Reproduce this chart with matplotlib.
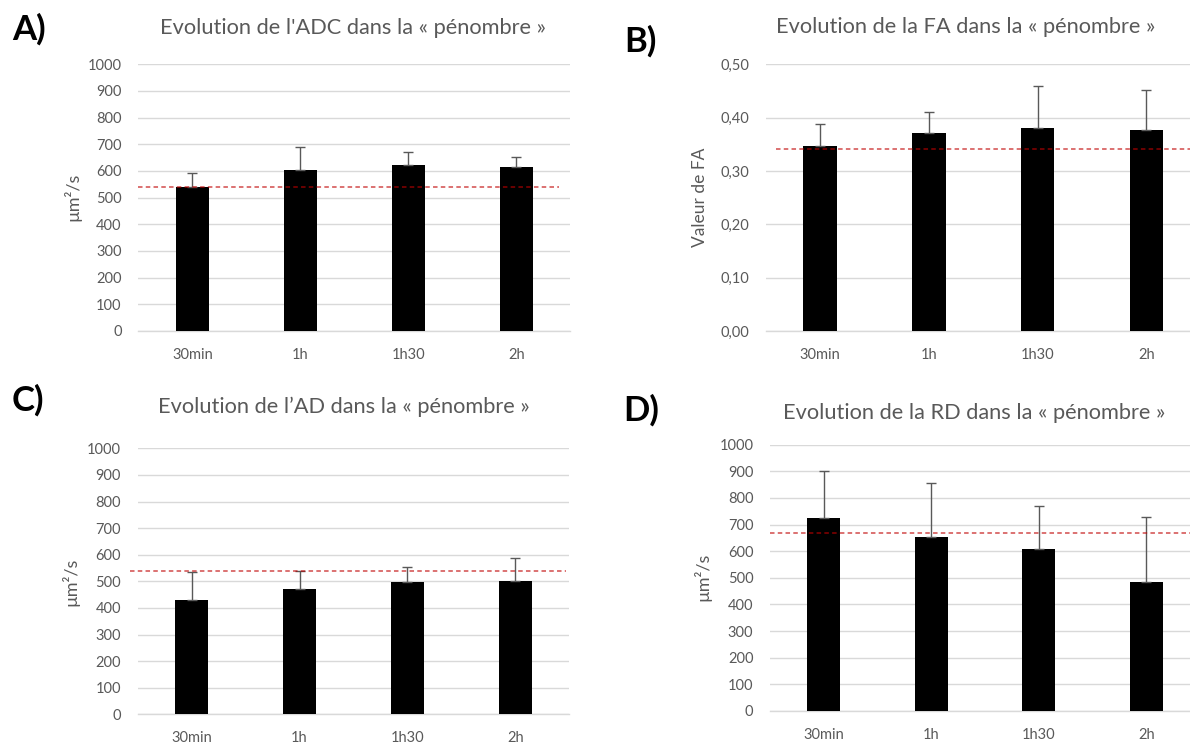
import numpy as np
import matplotlib.pyplot as plt
from matplotlib.ticker import MultipleLocator, FuncFormatter

plt.rcParams['font.family'] = ['Lato', 'DejaVu Sans']

# data
temps = ['30min', '1h', '1h30', '2h']

adc_moy = [541, 602, 624, 616]
adc_sd = [53, 88, 48, 35]
adc_ref = 541

fa_moy = [0.346, 0.372, 0.380, 0.376]
fa_sd = [0.043, 0.038, 0.079, 0.076]
fa_ref = 0.341

ad_moy = [428, 471, 496, 502]
ad_sd = [107, 68, 59, 85]
ad_ref = 540

rd_moy = [723, 652, 609, 486]
rd_sd = [177, 205, 160, 244]
rd_ref = 668

W, H = 1190, 745
gris = '#595959'
grille = '#d9d9d9'

fig = plt.figure(figsize=(W / 100, H / 100), dpi=100)


def px(x0, y0, x1, y1):
    # pixel box -> figure fraction [left, bottom, width, height]
    return [x0 / W, 1 - y1 / H, (x1 - x0) / W, (y1 - y0) / H]


def panneau(box, moy, sd, ref, ymax, pas, fmt, ref_span):
    ax = fig.add_axes(box)
    x = np.arange(len(temps))
    ax.bar(x, moy, width=0.31, color='black', zorder=3)
    ax.errorbar(x, moy, yerr=[np.zeros(len(sd)), sd], fmt='none',
                ecolor=gris, elinewidth=1, capsize=3.5, capthick=1, zorder=4)
    ax.axhline(ref, xmin=ref_span[0], xmax=ref_span[1], color='#c00000',
               alpha=0.6, lw=1.3, ls=(0, (2.5, 1.8)), zorder=5, clip_on=False)
    ax.set_xlim(-0.5, len(temps) - 0.5)
    ax.set_ylim(0, ymax)
    ax.yaxis.set_major_locator(MultipleLocator(pas))
    ax.yaxis.set_major_formatter(FuncFormatter(fmt))
    ax.set_xticks(x)
    ax.set_xticklabels(temps)
    ax.grid(axis='y', color=grille, lw=1, zorder=0)
    ax.set_axisbelow(True)
    for s in ['top', 'right', 'left']:
        ax.spines[s].set_visible(False)
    ax.spines['bottom'].set_color(grille)
    ax.spines['bottom'].set_linewidth(1)
    ax.tick_params(axis='both', length=0, colors=gris, labelsize=10.5)
    ax.tick_params(axis='y', pad=12)
    ax.tick_params(axis='x', pad=12)
    return ax


entier = lambda v, p: '%d' % v
virgule = lambda v, p: ('%.2f' % v).replace('.', ',')

panneau(px(138.3, 64.3, 570.3, 331), adc_moy, adc_sd, adc_ref, 1000, 100, entier, (0, 0.974))
panneau(px(765.9, 64.3, 1200.7, 331), fa_moy, fa_sd, fa_ref, 0.5, 0.1, virgule, (0.0225, 1))
panneau(px(137.7, 448.3, 569.3, 714.3), ad_moy, ad_sd, ad_ref, 1000, 100, entier, (-0.018, 0.992))
panneau(px(770, 444.7, 1200, 711), rd_moy, rd_sd, rd_ref, 1000, 100, entier, (0, 1))


def texte(x, y, s, **kw):
    fig.text(x / W, 1 - y / H, s, ha='center', va='center', **kw)


# titres
texte(353.5, 28, "Evolution de l'ADC dans la « pénombre »", fontsize=15.7, color=gris)
texte(966, 27, "Evolution de la FA dans la « pénombre »", fontsize=15.7, color=gris)
texte(344, 407, "Evolution de l’AD dans la « pénombre »", fontsize=15.7, color=gris)
texte(974, 413, "Evolution de la RD dans la « pénombre »", fontsize=15.7, color=gris)

# axes y
texte(72, 197, 'µm²/s', fontsize=13, color=gris, rotation=90)
texte(700, 197, 'Valeur de FA', fontsize=12.5, color=gris, rotation=90)
texte(70, 582, 'µm²/s', fontsize=13, color=gris, rotation=90)
texte(702, 577, 'µm²/s', fontsize=13, color=gris, rotation=90)

# lettres
texte(29, 29, 'A)', fontsize=25, fontweight='bold', color='black')
texte(640, 41, 'B)', fontsize=25, fontweight='bold', color='black')
texte(28, 400, 'C)', fontsize=25, fontweight='bold', color='black')
texte(641, 410, 'D)', fontsize=25, fontweight='bold', color='black')

fig.savefig('out.png', dpi=100, facecolor='white')
